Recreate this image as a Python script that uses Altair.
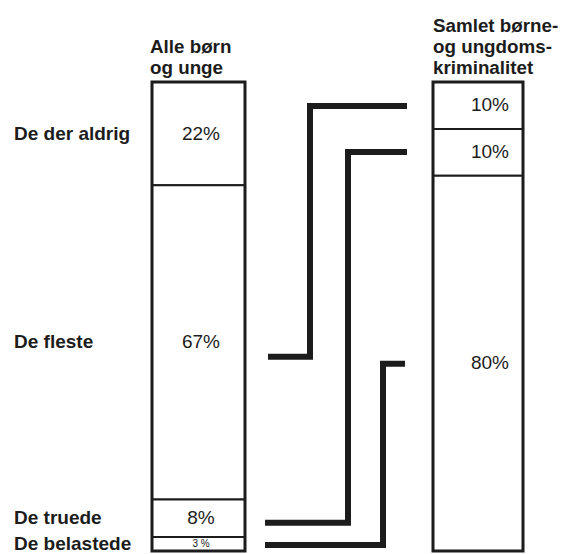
import altair as alt
import pandas as pd

# ---- data ----
left_categories = ["De der aldrig", "De fleste", "De truede", "De belastede"]
left_values = [22, 67, 8, 3]
left_value_labels = ["22%", "67%", "8%", "3 %"]
right_values = [10, 10, 80]
right_value_labels = ["10%", "10%", "80%"]
left_header = ["Alle børn", "og  unge"]
right_header = ["Samlet børne-", "og ungdoms-", "kriminalitet"]
# connector ends (percent scale): from a left group to a right group
connector_from = [58.6, 94.0, 98.7]
connector_to = [5.1, 14.9, 60.1]

# ---- layout (pixels) ----
W, H = 552, 546
LEFT_BAR = (152, 245)
RIGHT_BAR = (433, 523)
LABEL_X = 14
LEFT_TEXT_X = 201
RIGHT_TEXT_X = 490
CONN_START = [268, 265, 265]
CONN_ELBOW = [310, 348, 383]
CONN_END = [407, 407, 405]
LEFT_HEAD_X = 150
RIGHT_HEAD_X = 433
TOP_PX, PX_PER_PCT = 82, 4.69
LEFT_HEAD_BASE = [53, 74]
RIGHT_HEAD_BASE = [32, 53, 74]
INK = "#1c1c1c"
FONT = "Liberation Sans"
LABEL_SIZE = 19
HEAD_SIZE = 18.8
PCT_SIZE = 19


def to_pct(py):
    return (py - TOP_PX) / PX_PER_PCT


xs = alt.Scale(domain=[8, 8 + W], nice=False, zero=False)
ys = alt.Scale(domain=[to_pct(8), to_pct(8 + H)], nice=False, zero=False, reverse=True)

# left bands
rows = []
acc = 0
for cat, v, lab in zip(left_categories, left_values, left_value_labels):
    rows.append(dict(cat=cat, x0=LEFT_BAR[0], x1=LEFT_BAR[1], y0=acc, y1=acc + v,
                     mid=acc + v / 2, lab=lab, tx=LEFT_TEXT_X, lx=LABEL_X,
                     size=10 if v < 5 else PCT_SIZE))
    acc += v
df_left = pd.DataFrame(rows)

rows = []
acc = 0
for v, lab in zip(right_values, right_value_labels):
    rows.append(dict(x0=RIGHT_BAR[0], x1=RIGHT_BAR[1], y0=acc, y1=acc + v,
                     mid=acc + v / 2, lab=lab, tx=RIGHT_TEXT_X, size=PCT_SIZE))
    acc += v
df_right = pd.DataFrame(rows)
df_bands = pd.concat([df_left, df_right], ignore_index=True)

df_frames = pd.DataFrame([
    dict(x0=LEFT_BAR[0], x1=LEFT_BAR[1], y0=0, y1=sum(left_values)),
    dict(x0=RIGHT_BAR[0], x1=RIGHT_BAR[1], y0=0, y1=sum(right_values)),
])

conn_rows = []
for i in range(len(connector_from)):
    pts = [(CONN_START[i], connector_from[i]), (CONN_ELBOW[i], connector_from[i]),
           (CONN_ELBOW[i], connector_to[i]), (CONN_END[i], connector_to[i])]
    for k, (px, py) in enumerate(pts):
        conn_rows.append(dict(id=i, ord=k, x=px, y=py))
df_conn = pd.DataFrame(conn_rows)

head_rows = []
for t, b in zip(left_header, LEFT_HEAD_BASE):
    head_rows.append(dict(t=t, x=LEFT_HEAD_X, y=to_pct(b)))
for t, b in zip(right_header, RIGHT_HEAD_BASE):
    head_rows.append(dict(t=t, x=RIGHT_HEAD_X, y=to_pct(b)))
df_head = pd.DataFrame(head_rows)

bands = alt.Chart(df_bands).mark_rect(fill="white", stroke=INK, strokeWidth=2).encode(
    x=alt.X("x0:Q", scale=xs, axis=None), x2="x1:Q",
    y=alt.Y("y0:Q", scale=ys, axis=None), y2="y1:Q")

frames = alt.Chart(df_frames).mark_rect(fill=None, stroke=INK, strokeWidth=3).encode(
    x=alt.X("x0:Q", scale=xs, axis=None), x2="x1:Q",
    y=alt.Y("y0:Q", scale=ys, axis=None), y2="y1:Q")

pct_text = alt.Chart(df_bands).mark_text(font=FONT, color=INK, align="center",
                                         baseline="middle").encode(
    x=alt.X("tx:Q", scale=xs, axis=None),
    y=alt.Y("mid:Q", scale=ys, axis=None),
    text="lab:N",
    size=alt.Size("size:Q", scale=None, legend=None))

cat_text = alt.Chart(df_left).mark_text(font=FONT, fontWeight="bold", fontSize=LABEL_SIZE,
                                        color=INK, align="left", baseline="middle").encode(
    x=alt.X("lx:Q", scale=xs, axis=None),
    y=alt.Y("mid:Q", scale=ys, axis=None),
    text="cat:N")

head_text = alt.Chart(df_head).mark_text(font=FONT, fontWeight="bold", fontSize=HEAD_SIZE,
                                         color=INK, align="left",
                                         baseline="alphabetic").encode(
    x=alt.X("x:Q", scale=xs, axis=None),
    y=alt.Y("y:Q", scale=ys, axis=None),
    text="t:N")

conns = alt.Chart(df_conn).mark_line(color=INK, strokeWidth=6, strokeCap="butt",
                                     strokeJoin="miter").encode(
    x=alt.X("x:Q", scale=xs, axis=None),
    y=alt.Y("y:Q", scale=ys, axis=None),
    detail="id:N", order="ord:Q")

chart = alt.layer(bands, frames, conns, pct_text, cat_text, head_text).properties(
    width=W, height=H, padding=0, background="white",
    autosize=alt.AutoSizeParams(type="none"),
).configure_view(stroke=None)

chart.save("out.html", embed_options={"renderer": "svg", "actions": False})
